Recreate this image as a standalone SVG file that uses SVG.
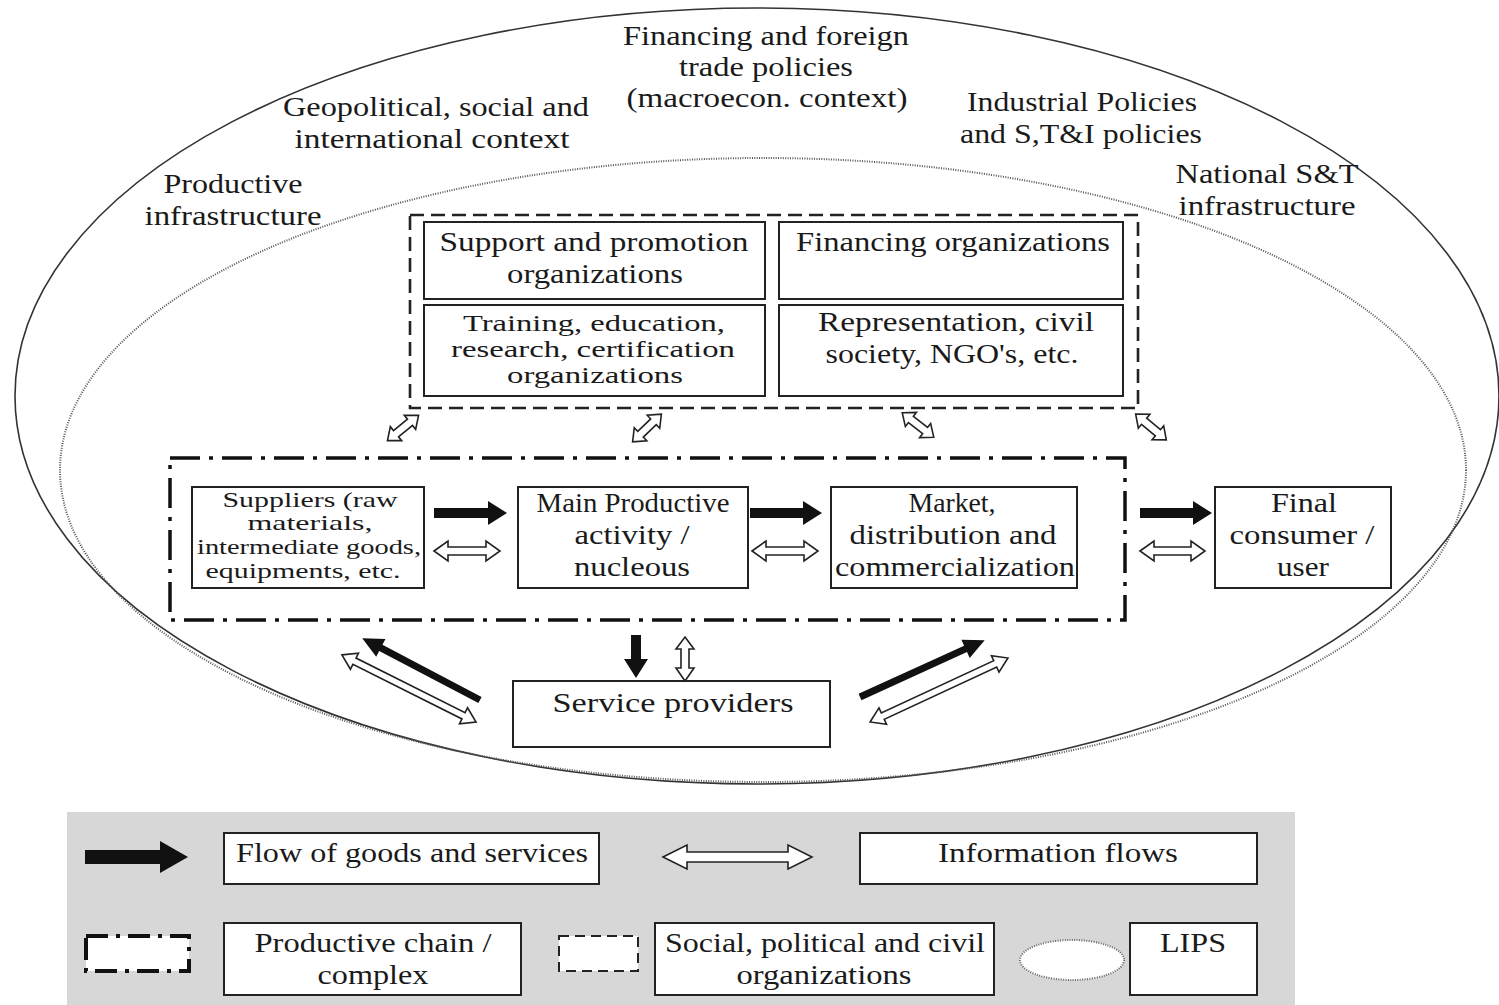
<svg xmlns="http://www.w3.org/2000/svg" width="1499" height="1005" viewBox="0 0 1499 1005">
<defs>
<style>
text{font-family:"Liberation Serif","Times New Roman",serif;font-size:27px;fill:#1a1a1a;text-anchor:middle}
.sm{font-size:21px}
.md{font-size:23px}
.box{fill:#fff;stroke:#222;stroke-width:2}
.blk{fill:#111;stroke:none}
.wht{fill:#fff;stroke:#222;stroke-width:1.6;stroke-linejoin:miter}
</style>
</defs>
<rect width="1499" height="1005" fill="#fff"/>

<g id="lips">
<ellipse cx="757" cy="396" rx="742" ry="388" fill="none" stroke="#333" stroke-width="1.6"/>
<ellipse cx="763" cy="470" rx="703" ry="312" fill="none" stroke="#555" stroke-width="2" stroke-dasharray="1 1.4"/>
</g>

<g id="context-labels">
<text x="766" y="45" textLength="286" lengthAdjust="spacingAndGlyphs">Financing and foreign</text>
<text x="766" y="76" textLength="174" lengthAdjust="spacingAndGlyphs">trade policies</text>
<text x="767" y="107" textLength="281" lengthAdjust="spacingAndGlyphs">(macroecon. context)</text>
<text x="436" y="116" textLength="306" lengthAdjust="spacingAndGlyphs">Geopolitical, social and</text>
<text x="432" y="148" textLength="275" lengthAdjust="spacingAndGlyphs">international context</text>
<text x="1082" y="111" textLength="230" lengthAdjust="spacingAndGlyphs">Industrial Policies</text>
<text x="1081" y="143" textLength="242" lengthAdjust="spacingAndGlyphs">and S,T&amp;I policies</text>
<text x="1267" y="183" textLength="183" lengthAdjust="spacingAndGlyphs">National S&amp;T</text>
<text x="1267" y="215" textLength="177" lengthAdjust="spacingAndGlyphs">infrastructure</text>
<text x="233" y="193" textLength="139" lengthAdjust="spacingAndGlyphs">Productive</text>
<text x="233" y="225" textLength="177" lengthAdjust="spacingAndGlyphs">infrastructure</text>
</g>

<g id="social-orgs">
<rect x="410" y="215" width="728" height="193" fill="none" stroke="#222" stroke-width="2.6" stroke-dasharray="14 7"/>
</g>
<g id="support">
<rect class="box" x="424" y="222" width="341" height="77"/>
<text x="594" y="251" textLength="309" lengthAdjust="spacingAndGlyphs">Support and promotion</text>
<text x="595" y="283" textLength="176" lengthAdjust="spacingAndGlyphs">organizations</text>
</g>
<g id="financing">
<rect class="box" x="779" y="222" width="344" height="77"/>
<text x="953" y="251" textLength="314" lengthAdjust="spacingAndGlyphs">Financing organizations</text>
</g>
<g id="training">
<rect class="box" x="424" y="305" width="341" height="91"/>
<text class="md" x="594" y="331" textLength="262" lengthAdjust="spacingAndGlyphs">Training, education,</text>
<text class="md" x="593" y="357" textLength="284" lengthAdjust="spacingAndGlyphs">research, certification</text>
<text class="md" x="595" y="383" textLength="176" lengthAdjust="spacingAndGlyphs">organizations</text>
</g>
<g id="representation">
<rect class="box" x="779" y="305" width="344" height="91"/>
<text x="956" y="331" textLength="276" lengthAdjust="spacingAndGlyphs">Representation, civil</text>
<text x="952" y="363" textLength="253" lengthAdjust="spacingAndGlyphs">society, NGO's, etc.</text>
</g>

<g id="productive-chain">
<rect x="170" y="458" width="955" height="162" fill="none" stroke="#111" stroke-width="3.5" stroke-dasharray="30 9 4 9"/>
</g>
<g id="suppliers">
<rect class="box" x="192" y="487" width="232" height="101"/>
<text class="sm" x="310" y="507" textLength="175" lengthAdjust="spacingAndGlyphs">Suppliers (raw</text>
<text class="sm" x="310" y="530" textLength="125" lengthAdjust="spacingAndGlyphs">materials,</text>
<text class="sm" x="309" y="554" textLength="224" lengthAdjust="spacingAndGlyphs">intermediate goods,</text>
<text class="sm" x="303" y="578" textLength="195" lengthAdjust="spacingAndGlyphs">equipments, etc.</text>
</g>
<g id="main-activity">
<rect class="box" x="518" y="487" width="230" height="101"/>
<text x="633" y="512" textLength="193" lengthAdjust="spacingAndGlyphs">Main Productive</text>
<text x="632" y="544" textLength="115" lengthAdjust="spacingAndGlyphs">activity /</text>
<text x="632" y="576" textLength="116" lengthAdjust="spacingAndGlyphs">nucleous</text>
</g>
<g id="market">
<rect class="box" x="831" y="487" width="246" height="101"/>
<text x="952" y="512" textLength="87" lengthAdjust="spacingAndGlyphs">Market,</text>
<text x="953" y="544" textLength="207" lengthAdjust="spacingAndGlyphs">distribution and</text>
<text x="955" y="576" textLength="240" lengthAdjust="spacingAndGlyphs">commercialization</text>
</g>
<g id="final-consumer">
<rect class="box" x="1215" y="487" width="176" height="101"/>
<text x="1304" y="512" textLength="66" lengthAdjust="spacingAndGlyphs">Final</text>
<text x="1302" y="544" textLength="145" lengthAdjust="spacingAndGlyphs">consumer /</text>
<text x="1303" y="576" textLength="52" lengthAdjust="spacingAndGlyphs">user</text>
</g>
<g id="service-providers">
<rect class="box" x="513" y="681" width="317" height="66"/>
<text x="673" y="712" textLength="241" lengthAdjust="spacingAndGlyphs">Service providers</text>
</g>

<g id="connectors">
<path class="wht" transform="translate(403,428) rotate(-39)" d="M-20,0 L-9,-9 V-4 H9 V-9 L20,0 L9,9 V4 H-9 V9 Z"/>
<path class="wht" transform="translate(647,428) rotate(-44)" d="M-20,0 L-9,-9 V-4 H9 V-9 L20,0 L9,9 V4 H-9 V9 Z"/>
<path class="wht" transform="translate(918,425) rotate(38)" d="M-20,0 L-9,-9 V-4 H9 V-9 L20,0 L9,9 V4 H-9 V9 Z"/>
<path class="wht" transform="translate(1151,427) rotate(40)" d="M-20,0 L-9,-9 V-4 H9 V-9 L20,0 L9,9 V4 H-9 V9 Z"/>
<path class="blk" d="M434,508 H488 V501 L507,513 L488,525 V518 H434 Z"/>
<path class="blk" d="M750,508 H803 V501 L822,513 L803,525 V518 H750 Z"/>
<path class="blk" d="M1140,508 H1193 V501 L1212,513 L1193,525 V518 H1140 Z"/>
<path class="wht" d="M434,551 L448,541 V547 H486 V541 L500,551 L486,561 V555 H448 V561 Z"/>
<path class="wht" d="M752,551 L766,541 V547 H804 V541 L818,551 L804,561 V555 H766 V561 Z"/>
<path class="wht" d="M1140,551 L1154,541 V547 H1191 V541 L1205,551 L1191,561 V555 H1154 V561 Z"/>
<path class="blk" d="M631,635 H641 V659 H648 L636,678 L624,659 H631 Z"/>
<path class="wht" d="M685,637 L694,649 H689 V668 H694 L685,681 L676,668 H681 V649 H676 Z"/>
<path class="blk" transform="translate(480,700) rotate(-152.3)" d="M0,-3.5 H112 V-10 L133,0 L112,10 V3.5 H0 Z"/>
<path class="wht" transform="translate(409,688.5) rotate(26.6)" d="M-75,0 L-61,-9 V-3.5 H61 V-9 L75,0 L61,9 V3.5 H-61 V9 Z"/>
<path class="blk" transform="translate(860,697) rotate(-24.5)" d="M0,-3.5 H116 V-10 L137,0 L116,10 V3.5 H0 Z"/>
<path class="wht" transform="translate(939,690) rotate(-24.9)" d="M-76,0 L-62,-9 V-3.5 H62 V-9 L76,0 L62,9 V3.5 H-62 V9 Z"/>
</g>

<g id="legend">
<rect x="67" y="812" width="1228" height="193" fill="#d7d7d7"/>
<path class="blk" d="M85,850 H160 V841 L188,857 L160,873 V864 H85 Z"/>
<g id="legend-flow">
<rect class="box" x="224" y="833" width="375" height="51"/>
<text x="412" y="862" textLength="352" lengthAdjust="spacingAndGlyphs">Flow of goods and services</text>
</g>
<path class="wht" d="M663,857 L687,845 V852 H788 V845 L812,857 L788,869 V862 H687 V869 Z"/>
<g id="legend-info">
<rect class="box" x="860" y="833" width="397" height="51"/>
<text x="1058" y="862" textLength="240" lengthAdjust="spacingAndGlyphs">Information flows</text>
</g>
<rect x="86" y="936" width="103" height="35" fill="#fff" stroke="#111" stroke-width="4" stroke-dasharray="22 8 4 8"/>
<g id="legend-chain">
<rect class="box" x="224" y="923" width="297" height="72"/>
<text x="373" y="952" textLength="237" lengthAdjust="spacingAndGlyphs">Productive chain /</text>
<text x="373" y="984" textLength="111" lengthAdjust="spacingAndGlyphs">complex</text>
</g>
<rect x="559" y="936" width="79" height="35" fill="#fff" stroke="#222" stroke-width="2" stroke-dasharray="10 6"/>
<g id="legend-social">
<rect class="box" x="655" y="923" width="339" height="72"/>
<text x="825" y="952" textLength="320" lengthAdjust="spacingAndGlyphs">Social, political and civil</text>
<text x="824" y="984" textLength="175" lengthAdjust="spacingAndGlyphs">organizations</text>
</g>
<ellipse cx="1072" cy="960" rx="52" ry="20" fill="#fff" stroke="#666" stroke-width="2" stroke-dasharray="1 1.4"/>
<g id="legend-lips">
<rect class="box" x="1130" y="923" width="127" height="72"/>
<text x="1193" y="952" textLength="66" lengthAdjust="spacingAndGlyphs">LIPS</text>
</g>
</g>
</svg>
